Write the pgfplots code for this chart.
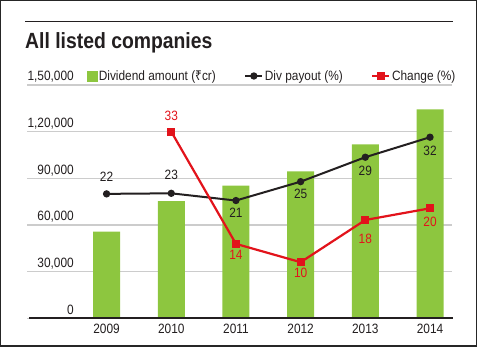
\documentclass[border=0pt]{standalone}
\usepackage{pgfplots}
\pgfplotsset{compat=1.18}
\usepackage{pgfplotstable}
\usepackage{fontspec}
\setmainfont{Liberation Sans}[FakeStretch=0.88]
\newfontfamily\rupeefont{Noto Sans}[FakeStretch=0.88]
\definecolor{bargreen}{HTML}{8DC63F}
\definecolor{linered}{HTML}{E2131B}
\definecolor{gridgray}{HTML}{CCCCCC}
\definecolor{txt}{HTML}{231F20}

\pgfplotstableread{
x y
0 55700
1 75400
2 85300
3 94500
4 111900
5 134400
}\amounttable

\pgfplotstableread{
x y label dy
0 22.4 22 17.5
1 22.5 23 18
2 21.2 21 -12.6
3 24.6 25 -12.3
4 29.0 29 -13.4
5 32.6 32 -13.4
}\payouttable

\pgfplotstableread{
x y label dy
1 33.6 33 15.7
2 13.4 14 -11
3 10.1 10 -11
4 17.7 18 -19
5 19.8 20 -14
}\changetable

\begin{document}
\begin{tikzpicture}
\useasboundingbox (0,0) rectangle (480bp,348bp);
\draw[line width=1.4bp, black!85] (0.7bp,1.8bp) rectangle (476.6bp,347.3bp);
\draw[line width=1.3bp, txt] (25bp,326.5bp) -- (453bp,326.5bp);
\node[anchor=base west, inner sep=0pt, font=\bfseries\fontsize{22bp}{26bp}\selectfont, text=txt] at (25bp,299bp) {All listed companies};

\begin{axis}[
 at={(27bp,29.7bp)}, anchor=south west, scale only axis, width=425bp, height=233.3bp,
 xmin=-1.23, xmax=5.34, ymin=0, ymax=150000,
 axis line style={draw=none}, major tick length=0pt,
 scaled y ticks=false,
 ytick={0,30000,60000,90000,120000,150000},
 yticklabels={0,{30,000},{60,000},{90,000},{1,20,000},{1,50,000}},
 ymajorgrids, grid style={gridgray, line width=1.2bp},
 xtick={0,1,2,3,4,5}, xticklabels={2009,2010,2011,2012,2013,2014},
 yticklabel style={anchor=base east, inner sep=0pt, xshift=47bp, yshift=4bp},
 xticklabel style={anchor=base, inner sep=0pt, yshift=-15.6bp},
 tick label style={font=\fontsize{13.5bp}{16bp}\selectfont, text=txt},
 clip=false,
]
\addplot[ybar, bar width=27bp, fill=bargreen, draw=none] table[x=x,y=y]{\amounttable};
\draw[line width=1.6bp, txt] (axis cs:-1.2,0) -- (axis cs:5.35,0);
\end{axis}

\begin{axis}[
 at={(27bp,29.7bp)}, anchor=south west, scale only axis, width=425bp, height=233.3bp,
 xmin=-1.23, xmax=5.34, ymin=0, ymax=42,
 hide axis, clip=false,
 legend columns=3,
 legend cell align=left,
 legend style={at={(0.141,1.0386)}, anchor=west, draw=none, fill=none, inner sep=0pt, outer sep=0pt,
   font=\fontsize{13.5bp}{16bp}\selectfont, text=txt,
   nodes={inner sep=1.5bp},
   /tikz/every even column/.append style={column sep=27bp}},
]
\addlegendimage{legend image code/.code={\fill[bargreen] (0bp,-5bp) rectangle (10bp,5bp);}}
\addlegendentry{Dividend amount ({\rupeefont ₹}cr)}
\addplot[txt, line width=2bp, mark=*, mark size=2.6bp,
  point meta=explicit symbolic,
  visualization depends on={\thisrow{dy} \as \dy},
  nodes near coords,
  nodes near coords style={anchor=center, inner sep=0pt, yshift=\dy bp, font=\fontsize{13.5bp}{16bp}\selectfont, text=txt}]
  table[x=x,y=y,meta=label]{\payouttable};
\addlegendentry{Div payout (\%)}
\addplot[linered, line width=2.2bp, mark=square*, mark size=2.8bp,
  point meta=explicit symbolic,
  visualization depends on={\thisrow{dy} \as \dy},
  nodes near coords,
  nodes near coords style={anchor=center, inner sep=0pt, yshift=\dy bp, font=\fontsize{13.5bp}{16bp}\selectfont, text=linered}]
  table[x=x,y=y,meta=label]{\changetable};
\addlegendentry{Change (\%)}
\end{axis}
\end{tikzpicture}
\end{document}
